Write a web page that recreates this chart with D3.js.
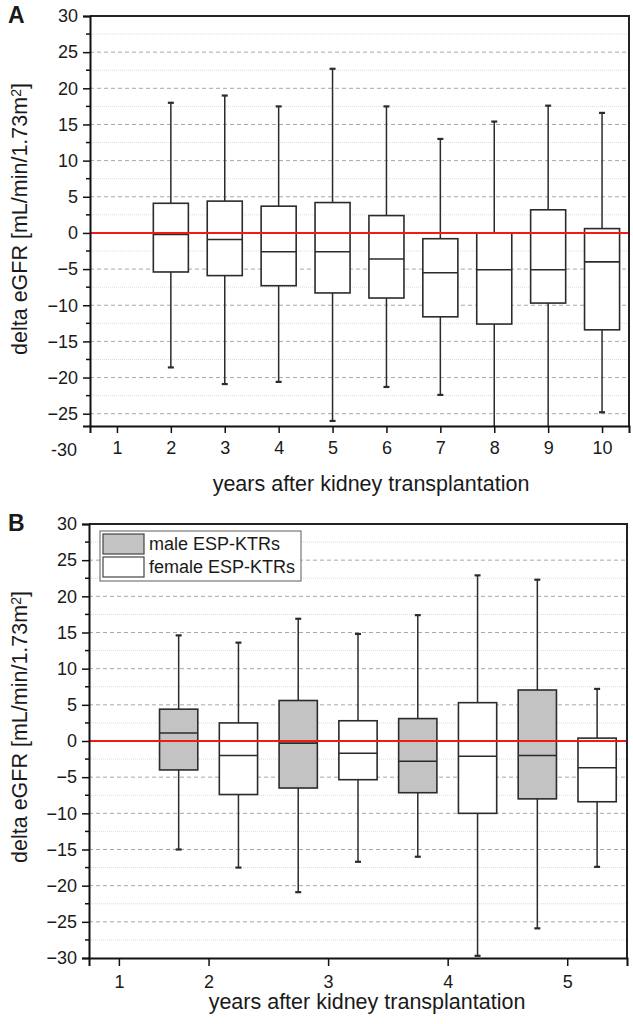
<!DOCTYPE html>
<html>
<head>
<meta charset="utf-8">
<script src="https://cdn.jsdelivr.net/npm/d3@7"></script>
<style>
  body { margin: 0; background: #fff; }
  svg text { font-family: Arial, "Liberation Sans", sans-serif; fill: #1a1a1a; }
</style>
</head>
<body>
<div id="chart"></div>
<script>
// ---- panel A: all ESP-KTRs by year ----
var yearsA    = [2, 3, 4, 5, 6, 7, 8, 9, 10];
var whiskHiA  = [18.0, 19.0, 17.5, 22.7, 17.5, 13.0, 15.4, 17.6, 16.6];
var q3A       = [4.1, 4.4, 3.7, 4.2, 2.4, -0.8, 0.0, 3.2, 0.6];
var medA      = [-0.2, -0.9, -2.6, -2.6, -3.6, -5.5, -5.1, -5.1, -4.0];
var q1A       = [-5.4, -5.9, -7.3, -8.3, -9.0, -11.6, -12.6, -9.7, -13.4];
var whiskLoA  = [-18.6, -20.9, -20.6, -26.0, -21.3, -22.4, -28.0, -28.0, -24.8];
var xTicksA   = [1, 2, 3, 4, 5, 6, 7, 8, 9, 10];
var xLabelsA  = ["1", "2", "3", "4", "5", "6", "7", "8", "9", "10"];

// ---- panel B: male vs female ----
var seriesB   = ["male ESP-KTRs", "female ESP-KTRs"];
var groupB    = [0, 1, 0, 1, 0, 1, 0, 1];
var posB      = [1.75, 2.25, 2.75, 3.25, 3.75, 4.25, 4.75, 5.25];
var whiskHiB  = [14.6, 13.6, 16.9, 14.8, 17.4, 22.9, 22.3, 7.2];
var q3B       = [4.4, 2.5, 5.6, 2.8, 3.1, 5.3, 7.05, 0.4];
var medB      = [1.1, -2.0, -0.3, -1.7, -2.8, -2.1, -2.0, -3.7];
var q1B       = [-4.0, -7.4, -6.5, -5.35, -7.15, -10.0, -8.0, -8.4];
var whiskLoB  = [-15.0, -17.5, -20.9, -16.7, -16.0, -29.7, -25.9, -17.4];
var xTicksB   = [1.25, 2, 3, 4, 5];
var xLabelsB  = ["1", "2", "3", "4", "5"];

var yTicks = [30, 25, 20, 15, 10, 5, 0, -5, -10, -15, -20, -25, -30];
var fills = ["#c3c3c3", "#ffffff"];
var tickFont = "18px";

var svg = d3.select("#chart").append("svg")
    .attr("width", 633)
    .attr("height", 1024);

function rows(pos, hi, q3, med, q1, lo, grp) {
  return pos.map(function(p, i) {
    return {x: p, hi: hi[i], q3: q3[i], med: med[i], q1: q1[i], lo: lo[i], g: grp ? grp[i] : 1};
  });
}

function panel(o) {
  var x = d3.scaleLinear().domain(o.xDomain).range([o.left, o.right]);
  var y = d3.scaleLinear().domain(o.yDomain).range([o.bottom, o.top]);
  var g = svg.append("g");

  var clipId = "clip" + o.name;
  g.append("clipPath").attr("id", clipId).append("rect")
    .attr("x", o.left).attr("y", o.top)
    .attr("width", o.right - o.left).attr("height", o.bottom - o.top);

  var inside = function(v) { return v > o.yDomain[0] && v < o.yDomain[1]; };
  var onAxis = function(v) { return v >= o.yDomain[0] && v <= o.yDomain[1]; };

  // minor grid (dotted) and major grid (dashed)
  var minor = d3.range(-27.5, 30, 5).filter(inside);
  var major = yTicks.filter(inside);
  g.selectAll(".minor").data(minor).enter().append("line")
    .attr("x1", o.left).attr("x2", o.right)
    .attr("y1", y).attr("y2", y)
    .attr("stroke", "#dcdcdc").attr("stroke-width", 1)
    .attr("stroke-dasharray", "1,1");
  g.selectAll(".major").data(major).enter().append("line")
    .attr("x1", o.left).attr("x2", o.right)
    .attr("y1", y).attr("y2", y)
    .attr("stroke", "#a8a8a8").attr("stroke-width", 1)
    .attr("stroke-dasharray", "4,3");

  // boxes
  var plot = g.append("g").attr("clip-path", "url(#" + clipId + ")");
  var bw = o.boxW;
  var box = plot.selectAll(".box").data(o.data).enter().append("g");
  box.append("line")
    .attr("x1", function(d) { return x(d.x); }).attr("x2", function(d) { return x(d.x); })
    .attr("y1", function(d) { return y(d.hi); }).attr("y2", function(d) { return y(d.lo); })
    .attr("stroke", "#2b2b2b").attr("stroke-width", 1.5);
  box.append("rect")
    .attr("x", function(d) { return x(d.x - bw / 2); })
    .attr("width", function(d) { return x(d.x + bw / 2) - x(d.x - bw / 2); })
    .attr("y", function(d) { return y(d.q3); })
    .attr("height", function(d) { return y(d.q1) - y(d.q3); })
    .attr("fill", function(d) { return fills[d.g]; })
    .attr("stroke", "#2b2b2b").attr("stroke-width", 1.6);
  box.append("line")
    .attr("x1", function(d) { return x(d.x - bw / 2); })
    .attr("x2", function(d) { return x(d.x + bw / 2); })
    .attr("y1", function(d) { return y(d.med); }).attr("y2", function(d) { return y(d.med); })
    .attr("stroke", "#2b2b2b").attr("stroke-width", 1.6);
  // whisker caps
  ["hi", "lo"].forEach(function(k) {
    box.append("line")
      .attr("x1", function(d) { return x(d.x) - 3; })
      .attr("x2", function(d) { return x(d.x) + 3; })
      .attr("y1", function(d) { return y(d[k]); }).attr("y2", function(d) { return y(d[k]); })
      .attr("stroke", "#2b2b2b").attr("stroke-width", 2.2);
  });

  // zero reference line
  g.append("line")
    .attr("x1", o.left).attr("x2", o.right)
    .attr("y1", y(0)).attr("y2", y(0))
    .attr("stroke", "#f01a1a").attr("stroke-width", 2);

  // frame top/right
  g.append("path")
    .attr("d", "M" + o.left + "," + o.top + "H" + o.right + "V" + o.bottom)
    .attr("fill", "none").attr("stroke", "#222").attr("stroke-width", 2);

  // y axis with minor ticks
  var yAxis = d3.axisLeft(y).tickValues(yTicks.filter(onAxis)).tickSize(7).tickPadding(5)
    .tickFormat(d3.format("d"));
  var ya = g.append("g").attr("transform", "translate(" + o.left + ",0)").call(yAxis);
  ya.select(".domain").attr("stroke", "#111").attr("stroke-width", 2);
  ya.selectAll(".tick line").attr("stroke", "#111").attr("stroke-width", 1.5);
  ya.selectAll("text").style("font-size", tickFont).attr("fill", "#1a1a1a");
  g.selectAll(".ymin").data(minor).enter().append("line")
    .attr("x1", o.left - 4).attr("x2", o.left)
    .attr("y1", y).attr("y2", y)
    .attr("stroke", "#111").attr("stroke-width", 1.5);
  if (o.extraY !== undefined) {
    g.append("text")
      .attr("x", o.left - 13).attr("y", y(o.extraY))
      .attr("dy", "0.32em").attr("text-anchor", "end")
      .style("font-size", tickFont)
      .text(o.extraY);
  }

  // x axis
  var xAxis = d3.axisBottom(x).tickValues(o.xTicks).tickSize(o.tickLen).tickPadding(o.xPad)
    .tickFormat(function(d, i) { return o.xLabels[i]; });
  var xa = g.append("g").attr("transform", "translate(0," + o.bottom + ")").call(xAxis);
  xa.select(".domain").attr("stroke", "#111").attr("stroke-width", 2);
  xa.selectAll(".tick line").attr("stroke", "#111").attr("stroke-width", 1.5);
  xa.selectAll("text").style("font-size", tickFont).attr("fill", "#1a1a1a");

  // titles
  g.append("text")
    .attr("x", o.xTitleX).attr("y", o.xTitleY)
    .attr("text-anchor", "middle").style("font-size", "21.5px")
    .text("years after kidney transplantation");
  var yt = g.append("text")
    .attr("transform", "translate(" + 27 + "," + o.yTitleY + ") rotate(-90)")
    .attr("text-anchor", "middle").style("font-size", "21.5px");
  yt.append("tspan").text("delta eGFR [mL/min/1.73m");
  yt.append("tspan").attr("dy", "-0.45em").style("font-size", "14px").text("2");
  yt.append("tspan").attr("dy", "0.3em").text("]");

  g.append("text")
    .attr("x", 8).attr("y", o.top + 7)
    .style("font-size", "23px").style("font-weight", "bold")
    .text(o.name);

  return {x: x, y: y, g: g};
}

panel({
  name: "A", left: 90, right: 629, top: 16, bottom: 426,
  xDomain: [0.5, 10.5], yDomain: [-26.7, 30],
  data: rows(yearsA, whiskHiA, q3A, medA, q1A, whiskLoA, null),
  boxW: 0.65, xTicks: xTicksA, xLabels: xLabelsA,
  tickLen: 7, xPad: 8, extraY: -30,
  xTitleX: 371, xTitleY: 491, yTitleY: 219
});

var pB = panel({
  name: "B", left: 89, right: 627, top: 524, bottom: 958,
  xDomain: [1, 5.5], yDomain: [-30, 30],
  data: rows(posB, whiskHiB, q3B, medB, q1B, whiskLoB, groupB),
  boxW: 0.32, xTicks: xTicksB, xLabels: xLabelsB,
  tickLen: 8, xPad: 9,
  xTitleX: 367, xTitleY: 1009, yTitleY: 727
});

// legend for panel B
var leg = pB.g.append("g");
leg.append("rect")
  .attr("x", 100).attr("y", 531).attr("width", 201).attr("height", 50)
  .attr("fill", "#fff").attr("stroke", "#777").attr("stroke-width", 1.2);
var li = leg.selectAll(".li").data(seriesB).enter().append("g")
  .attr("transform", function(d, i) { return "translate(103," + (534 + i * 23) + ")"; });
li.append("rect")
  .attr("width", 41).attr("height", 20)
  .attr("fill", function(d, i) { return fills[i]; })
  .attr("stroke", "#444").attr("stroke-width", 1.2);
li.append("text")
  .attr("x", 46).attr("y", 16)
  .style("font-size", "18px")
  .text(function(d) { return d; });
</script>
</body>
</html>
